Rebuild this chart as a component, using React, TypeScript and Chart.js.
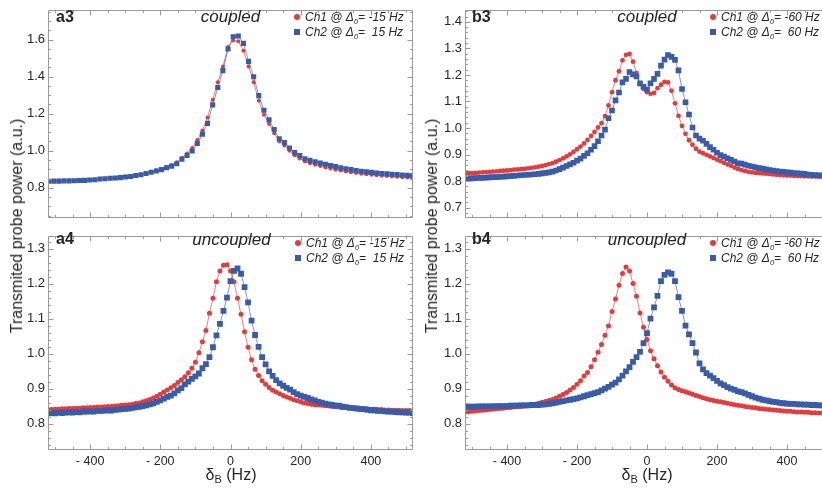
import React, { useEffect, useRef } from "react";
import { Chart, registerables } from "chart.js";

Chart.register(...registerables);

// ---------------- data ----------------
// panel a3 (coupled, ±15 Hz): sampling of δB (Hz)
const A3_X = [
  -518, -503.4, -488.8, -474.2, -459.6, -445, -430.4, -415.8, -401.2, -386.6,
  -372, -357.4, -342.8, -328.2, -313.6, -299, -284.4, -269.8, -255.2, -240.6,
  -226, -211.4, -196.8, -182.2, -167.6, -153, -138.4, -123.8, -109.2, -94.6,
  -80, -65.4, -50.8, -36.2, -21.6, -7, 7.6, 22.2, 36.8, 51.4,
  66, 80.6, 95.2, 109.8, 124.4, 139, 153.6, 168.2, 182.8, 197.4,
  212, 226.6, 241.2, 255.8, 270.4, 285, 299.6, 314.2, 328.8, 343.4,
  358, 372.6, 387.2, 401.8, 416.4, 431, 445.6, 460.2, 474.8, 489.4,
  504, 518.6,
];
const A3_CH1 = [
  0.836, 0.836, 0.837, 0.837, 0.838, 0.839, 0.840, 0.841, 0.842, 0.844,
  0.846, 0.849, 0.851, 0.853, 0.856, 0.859, 0.862, 0.867, 0.872, 0.879,
  0.886, 0.894, 0.902, 0.912, 0.922, 0.938, 0.962, 0.985, 1.015, 1.058,
  1.110, 1.180, 1.275, 1.370, 1.455, 1.560, 1.595, 1.592, 1.540, 1.455,
  1.370, 1.270, 1.195, 1.145, 1.095, 1.050, 1.028, 1.000, 0.975, 0.958,
  0.942, 0.932, 0.924, 0.917, 0.910, 0.904, 0.898, 0.893, 0.888, 0.884,
  0.880, 0.876, 0.873, 0.870, 0.868, 0.865, 0.863, 0.861, 0.859, 0.857,
  0.855, 0.853,
];
const A3_CH2 = [
  0.835, 0.836, 0.836, 0.837, 0.837, 0.838, 0.839, 0.840, 0.842, 0.843,
  0.847, 0.849, 0.851, 0.853, 0.855, 0.858, 0.861, 0.866, 0.870, 0.877,
  0.884, 0.891, 0.898, 0.908, 0.917, 0.930, 0.954, 0.974, 0.999, 1.040,
  1.090, 1.148, 1.248, 1.342, 1.433, 1.550, 1.616, 1.620, 1.580, 1.483,
  1.400, 1.298, 1.219, 1.167, 1.115, 1.065, 1.044, 1.015, 0.990, 0.974,
  0.957, 0.948, 0.940, 0.933, 0.927, 0.920, 0.914, 0.908, 0.903, 0.898,
  0.893, 0.889, 0.886, 0.883, 0.880, 0.877, 0.875, 0.873, 0.871, 0.869,
  0.867, 0.865,
];

// panels a4, b3, b4: sampling of δB (Hz)
const DENSE_X = [
  -520, -510, -500, -490, -480, -470, -460, -450, -440, -430,
  -420, -410, -400, -390, -380, -370, -360, -350, -340, -330,
  -320, -310, -300, -290, -280, -270, -260, -250, -240, -230,
  -220, -210, -200, -190, -180, -170, -160, -150, -140, -130,
  -120, -110, -100, -90, -80, -70, -60, -50, -40, -30,
  -20, -10, 0, 10, 20, 30, 40, 50, 60, 70,
  80, 90, 100, 110, 120, 130, 140, 150, 160, 170,
  180, 190, 200, 210, 220, 230, 240, 250, 260, 270,
  280, 290, 300, 310, 320, 330, 340, 350, 360, 370,
  380, 390, 400, 410, 420, 430, 440, 450, 460, 470,
  480, 490, 500, 510, 520,
];
const A4_CH1 = [
  0.840, 0.840, 0.841, 0.841, 0.842, 0.842, 0.843, 0.843, 0.844, 0.844,
  0.845, 0.845, 0.846, 0.846, 0.847, 0.847, 0.848, 0.849, 0.849, 0.850,
  0.851, 0.852, 0.853, 0.854, 0.855, 0.857, 0.859, 0.862, 0.865, 0.869,
  0.873, 0.878, 0.884, 0.890, 0.896, 0.902, 0.909, 0.917, 0.925, 0.934,
  0.945, 0.958, 0.975, 1.002, 1.034, 1.066, 1.115, 1.158, 1.205, 1.236,
  1.252, 1.254, 1.236, 1.205, 1.158, 1.112, 1.062, 1.018, 0.982, 0.955,
  0.937, 0.922, 0.912, 0.903, 0.895, 0.890, 0.885, 0.880, 0.876, 0.872,
  0.868, 0.865, 0.862, 0.859, 0.857, 0.855, 0.854, 0.853, 0.852, 0.851,
  0.850, 0.849, 0.848, 0.847, 0.846, 0.846, 0.845, 0.844, 0.843, 0.843,
  0.842, 0.842, 0.841, 0.841, 0.840, 0.840, 0.839, 0.839, 0.838, 0.838,
  0.838, 0.837, 0.837, 0.837, 0.836,
];
const A4_CH2 = [
  0.829, 0.830, 0.829, 0.831, 0.830, 0.831, 0.832, 0.831, 0.833, 0.832,
  0.834, 0.834, 0.835, 0.834, 0.836, 0.836, 0.837, 0.838, 0.837, 0.839,
  0.840, 0.841, 0.842, 0.843, 0.845, 0.846, 0.848, 0.850, 0.852, 0.855,
  0.858, 0.862, 0.866, 0.871, 0.876, 0.880, 0.886, 0.895, 0.901, 0.912,
  0.920, 0.928, 0.935, 0.943, 0.958, 0.970, 0.990, 1.018, 1.052, 1.085,
  1.122, 1.160, 1.207, 1.236, 1.243, 1.228, 1.190, 1.146, 1.094, 1.053,
  1.019, 0.990, 0.969, 0.949, 0.936, 0.924, 0.915, 0.908, 0.902, 0.897,
  0.890, 0.884, 0.880, 0.876, 0.873, 0.869, 0.866, 0.862, 0.860, 0.857,
  0.855, 0.853, 0.851, 0.851, 0.848, 0.847, 0.845, 0.844, 0.843, 0.841,
  0.841, 0.839, 0.838, 0.838, 0.836, 0.836, 0.835, 0.834, 0.834, 0.833,
  0.832, 0.832, 0.831, 0.831, 0.830,
];
const B3_CH1 = [
  0.829, 0.830, 0.830, 0.831, 0.832, 0.833, 0.834, 0.835, 0.836, 0.837,
  0.838, 0.839, 0.840, 0.841, 0.843, 0.844, 0.845, 0.846, 0.848, 0.850,
  0.852, 0.854, 0.857, 0.860, 0.864, 0.868, 0.873, 0.879, 0.886, 0.893,
  0.901, 0.910, 0.920, 0.930, 0.942, 0.955, 0.970, 0.985, 1.002, 1.018,
  1.045, 1.085, 1.135, 1.180, 1.214, 1.255, 1.276, 1.279, 1.250, 1.207,
  1.167, 1.148, 1.135, 1.129, 1.132, 1.150, 1.163, 1.174, 1.172, 1.140,
  1.093, 1.046, 1.008, 0.978, 0.954, 0.937, 0.922, 0.911, 0.905, 0.899,
  0.893, 0.887, 0.881, 0.875, 0.869, 0.863, 0.858, 0.851, 0.846, 0.841,
  0.838, 0.835, 0.833, 0.831, 0.830, 0.829, 0.828, 0.827, 0.825, 0.824,
  0.823, 0.822, 0.821, 0.821, 0.820, 0.819, 0.819, 0.818, 0.818, 0.817,
  0.817, 0.816, 0.816, 0.815, 0.815,
];
const B3_CH2 = [
  0.809, 0.810, 0.810, 0.811, 0.812, 0.812, 0.813, 0.814, 0.815, 0.815,
  0.816, 0.817, 0.818, 0.819, 0.820, 0.821, 0.822, 0.823, 0.824, 0.825,
  0.826, 0.827, 0.829, 0.831, 0.833, 0.836, 0.840, 0.845, 0.851, 0.857,
  0.863, 0.869, 0.877, 0.885, 0.895, 0.905, 0.918, 0.932, 0.950, 0.972,
  0.994, 1.037, 1.066, 1.104, 1.134, 1.172, 1.185, 1.211, 1.202, 1.194,
  1.168, 1.155, 1.145, 1.168, 1.185, 1.204, 1.235, 1.258, 1.275, 1.268,
  1.257, 1.217, 1.147, 1.097, 1.051, 1.002, 0.972, 0.960, 0.952, 0.940,
  0.928, 0.918, 0.907, 0.898, 0.892, 0.886, 0.880, 0.874, 0.867, 0.866,
  0.862, 0.858, 0.855, 0.852, 0.849, 0.847, 0.844, 0.842, 0.840, 0.838,
  0.836, 0.835, 0.833, 0.832, 0.830, 0.829, 0.828, 0.827, 0.825, 0.824,
  0.823, 0.822, 0.821, 0.820, 0.820,
];
const B4_CH1 = [
  0.833, 0.834, 0.835, 0.836, 0.837, 0.838, 0.839, 0.840, 0.841, 0.842,
  0.843, 0.844, 0.845, 0.846, 0.847, 0.848, 0.849, 0.850, 0.851, 0.853,
  0.855, 0.858, 0.861, 0.863, 0.866, 0.869, 0.873, 0.878, 0.883, 0.889,
  0.896, 0.903, 0.912, 0.922, 0.936, 0.946, 0.962, 0.982, 1.004, 1.026,
  1.052, 1.079, 1.120, 1.156, 1.195, 1.229, 1.247, 1.236, 1.200, 1.164,
  1.116, 1.075, 1.040, 1.008, 0.985, 0.965, 0.947, 0.932, 0.921, 0.910,
  0.902, 0.897, 0.894, 0.891, 0.887, 0.884, 0.880, 0.877, 0.874, 0.871,
  0.868, 0.866, 0.864, 0.862, 0.860, 0.858, 0.856, 0.854, 0.852, 0.851,
  0.849, 0.847, 0.846, 0.845, 0.843, 0.842, 0.841, 0.840, 0.839, 0.838,
  0.837, 0.836, 0.835, 0.835, 0.834, 0.833, 0.833, 0.832, 0.832, 0.831,
  0.831, 0.830, 0.830, 0.829, 0.829,
];
const B4_CH2 = [
  0.848, 0.848, 0.848, 0.848, 0.849, 0.849, 0.849, 0.849, 0.849, 0.850,
  0.850, 0.850, 0.850, 0.851, 0.851, 0.851, 0.852, 0.852, 0.852, 0.853,
  0.853, 0.853, 0.854, 0.855, 0.856, 0.858, 0.860, 0.862, 0.864, 0.866,
  0.868, 0.870, 0.872, 0.875, 0.878, 0.881, 0.884, 0.887, 0.890, 0.895,
  0.900, 0.905, 0.911, 0.917, 0.926, 0.937, 0.949, 0.961, 0.976, 0.990,
  1.005, 1.030, 1.058, 1.100, 1.132, 1.165, 1.207, 1.225, 1.232, 1.228,
  1.207, 1.161, 1.122, 1.080, 1.055, 1.030, 1.003, 0.972, 0.955, 0.944,
  0.937, 0.930, 0.922, 0.915, 0.910, 0.904, 0.900, 0.896, 0.892, 0.890,
  0.886, 0.882, 0.878, 0.874, 0.871, 0.868, 0.866, 0.864, 0.862, 0.861,
  0.859, 0.858, 0.857, 0.856, 0.856, 0.855, 0.855, 0.854, 0.854, 0.853,
  0.853, 0.852, 0.852, 0.852, 0.851,
];

// ticks
const X_TICKS = [-400, -200, 0, 200, 400];
const X_TICK_LABELS = ["- 400", "- 200", "0", "200", "400"];
const A3_Y_TICKS = [0.8, 1.0, 1.2, 1.4, 1.6];
const B3_Y_TICKS = [0.7, 0.8, 0.9, 1.0, 1.1, 1.2, 1.3, 1.4];
const UNCOUPLED_Y_TICKS = [0.8, 0.9, 1.0, 1.1, 1.2, 1.3];

// texts
const Y_TITLE = "Transmited probe power (a.u.)";
const PANEL_NAMES = ["a3", "a4", "b3", "b4"];
const PANEL_TITLES = ["coupled", "uncoupled", "coupled", "uncoupled"];
const LEGEND_A = [["Ch1 @ Δ", "= -15 Hz"], ["Ch2 @ Δ", "=  15 Hz"]];
const LEGEND_B = [["Ch1 @ Δ", "= -60 Hz"], ["Ch2 @ Δ", "=  60 Hz"]];

// ---------------- styles ----------------
const RED = "#e23c3c";
const RED_LINE = "rgba(226,70,70,0.85)";
const BLUE = "#3a5ca8";
const BLUE_LINE = "rgba(70,100,175,0.85)";
const TEXT = "#262626";
const FRAME = "#9a9a9a";
const FONT = "'Liberation Sans', Arial, Helvetica, sans-serif";

type Box = { left: number; top: number; width: number; height: number };
type Area = { left: number; top: number; right: number; bottom: number };
type Spec = {
  box: Box;
  area: Area;
  xMin: number;
  xMax: number;
  yMin: number;
  yMax: number;
  yTicks: number[];
  yMinorStep: number;
  showX: boolean;
  x: number[];
  ch1: number[];
  ch2: number[];
  dot: number;
  sq: number;
};

const SPECS: Spec[] = [
  {
    box: { left: 0, top: 0, width: 422, height: 228 },
    area: { left: 48, top: 3, right: 413, bottom: 227 },
    xMin: -520, xMax: 520, yMin: 0.641, yMax: 1.756,
    yTicks: A3_Y_TICKS, yMinorStep: 0.05, showX: false,
    x: A3_X, ch1: A3_CH1, ch2: A3_CH2, dot: 2.0, sq: 3.6,
  },
  {
    box: { left: 0, top: 226, width: 422, height: 263 },
    area: { left: 48, top: 226, right: 413, bottom: 450 },
    xMin: -520, xMax: 520, yMin: 0.7245, yMax: 1.3335,
    yTicks: UNCOUPLED_Y_TICKS, yMinorStep: 0.02, showX: true,
    x: DENSE_X, ch1: A4_CH1, ch2: A4_CH2, dot: 2.5, sq: 4.1,
  },
  {
    box: { left: 418, top: 0, width: 420, height: 228 },
    area: { left: 465, top: 3, right: 829, bottom: 227 },
    xMin: -520, xMax: 520, yMin: 0.664, yMax: 1.4417,
    yTicks: B3_Y_TICKS, yMinorStep: 0.02, showX: false,
    x: DENSE_X, ch1: B3_CH1, ch2: B3_CH2, dot: 2.4, sq: 4.0,
  },
  {
    box: { left: 418, top: 226, width: 420, height: 263 },
    area: { left: 465, top: 226, right: 829, bottom: 450 },
    xMin: -520, xMax: 520, yMin: 0.7245, yMax: 1.3335,
    yTicks: UNCOUPLED_Y_TICKS, yMinorStep: 0.02, showX: true,
    x: DENSE_X, ch1: B4_CH1, ch2: B4_CH2, dot: 2.5, sq: 4.1,
  },
];

function pts(xs: number[], ys: number[]) {
  return xs.map((x, i) => ({ x, y: ys[i] }));
}

function makeChart(canvas: HTMLCanvasElement, s: Spec) {
  const yWidth = s.area.left - s.box.left;
  const padTop = s.area.top - s.box.top;
  const padRight = s.box.left + s.box.width - s.area.right;
  const xHeight = s.box.top + s.box.height - s.area.bottom;

  const framePlugin = {
    id: "frameTicks",
    afterDatasetsDraw(chart: any) {
      const { ctx, chartArea: a, scales } = chart;
      const xs = scales.x;
      const ys = scales.y;
      const L = Math.floor(a.left) + 0.5;
      const T = Math.floor(a.top) + 0.5;
      const R = Math.ceil(a.right) - 0.5;
      const B = Math.ceil(a.bottom) - 0.5;
      ctx.save();
      ctx.strokeStyle = FRAME;
      ctx.lineWidth = 1;
      ctx.beginPath();
      ctx.moveTo(L, T); ctx.lineTo(R, T); ctx.lineTo(R, B); ctx.lineTo(L, B); ctx.closePath();
      ctx.stroke();
      ctx.beginPath();
      // x ticks (major every 200, minor every 50)
      for (let v = -500; v <= 500; v += 50) {
        const px = Math.round(xs.getPixelForValue(v)) + 0.5;
        const len = v % 200 === 0 ? 5 : 2.5;
        ctx.moveTo(px, B); ctx.lineTo(px, B - len);
        ctx.moveTo(px, T); ctx.lineTo(px, T + len);
      }
      // y ticks
      const st = s.yMinorStep;
      for (let k = Math.ceil(s.yMin / st); k * st <= s.yMax; k++) {
        const v = k * st;
        const isMajor = s.yTicks.some((t) => Math.abs(t - v) < 1e-6);
        const py = Math.round(ys.getPixelForValue(v)) + 0.5;
        const len = isMajor ? 5 : 2.5;
        ctx.moveTo(L, py); ctx.lineTo(L + len, py);
        ctx.moveTo(R, py); ctx.lineTo(R - len, py);
      }
      ctx.stroke();
      ctx.restore();
    },
  };

  return new Chart(canvas, {
    type: "scatter",
    data: {
      datasets: [
        {
          label: "Ch2",
          data: pts(s.x, s.ch2),
          showLine: true,
          borderColor: BLUE_LINE,
          borderWidth: 0.8,
          pointStyle: "rect",
          pointRadius: s.sq,
          pointBackgroundColor: BLUE,
          pointBorderWidth: 0,
          order: 1,
        },
        {
          label: "Ch1",
          data: pts(s.x, s.ch1),
          showLine: true,
          borderColor: RED_LINE,
          borderWidth: 0.8,
          pointStyle: "circle",
          pointRadius: s.dot,
          pointBackgroundColor: RED,
          pointBorderWidth: 0,
          order: 2,
        },
      ],
    },
    options: {
      animation: false,
      responsive: false,
      events: [],
      layout: { padding: { top: padTop, right: padRight, bottom: 0, left: 0 } },
      plugins: { legend: { display: false }, tooltip: { enabled: false } },
      scales: {
        x: {
          type: "linear",
          min: s.xMin,
          max: s.xMax,
          grid: { display: false, drawTicks: false },
          border: { display: false },
          ticks: {
            display: s.showX,
            autoSkip: false,
            maxRotation: 0,
            padding: 4,
            color: TEXT,
            font: { family: FONT, size: 12.5 },
            callback: (v: any) => {
              const i = X_TICKS.indexOf(Number(v));
              return i >= 0 ? X_TICK_LABELS[i] : "";
            },
          },
          afterBuildTicks: (sc: any) => {
            sc.ticks = X_TICKS.map((v) => ({ value: v }));
          },
          afterFit: (sc: any) => {
            sc.height = xHeight;
          },
        },
        y: {
          type: "linear",
          min: s.yMin,
          max: s.yMax,
          grid: { display: false, drawTicks: false },
          border: { display: false },
          ticks: {
            autoSkip: false,
            padding: 3,
            color: TEXT,
            font: { family: FONT, size: 13 },
            callback: (v: any) => Number(v).toFixed(1),
          },
          afterBuildTicks: (sc: any) => {
            sc.ticks = s.yTicks.map((v) => ({ value: v }));
          },
          afterFit: (sc: any) => {
            sc.width = yWidth;
          },
        },
      },
    } as any,
    plugins: [framePlugin],
  });
}

function Panel({ spec }: { spec: Spec }) {
  const ref = useRef<HTMLCanvasElement>(null);
  useEffect(() => {
    if (!ref.current) return;
    const chart = makeChart(ref.current, spec);
    return () => chart.destroy();
  }, [spec]);
  const b = spec.box;
  return (
    <canvas
      ref={ref}
      width={b.width}
      height={b.height}
      style={{ position: "absolute", left: b.left, top: b.top, width: b.width, height: b.height }}
    />
  );
}

function Txt({
  x, base, size, children, weight, italic, center,
}: {
  x: number; base: number; size: number; children: any; weight?: string; italic?: boolean; center?: boolean;
}) {
  return (
    <div
      style={{
        position: "absolute",
        left: x,
        top: base - 0.8465 * size,
        fontSize: size,
        lineHeight: 1,
        fontFamily: FONT,
        fontWeight: weight || "normal",
        fontStyle: italic ? "italic" : "normal",
        color: TEXT,
        whiteSpace: "pre",
        transform: center ? "translateX(-50%)" : undefined,
      }}
    >
      {children}
    </div>
  );
}

function Legend({ x, y, rows }: { x: number; y: number; rows: string[][] }) {
  return (
    <>
      {rows.map((r, i) => {
        const cy = y + i * 15;
        const isSq = i === 1;
        return (
          <React.Fragment key={i}>
            <div
              style={{
                position: "absolute",
                left: x - 3,
                top: cy - 3,
                width: 6,
                height: 6,
                background: isSq ? BLUE : RED,
                borderRadius: isSq ? 0 : "50%",
              }}
            />
            <div
              style={{
                position: "absolute",
                left: x + 8,
                top: cy - 8,
                height: 16,
                lineHeight: "16px",
                fontSize: 12,
                fontFamily: FONT,
                fontStyle: "italic",
                whiteSpace: "pre",
                color: TEXT,
              }}
            >
              {r[0]}
              <span style={{ fontSize: 7.5, position: "relative", top: 3 }}>0</span>
              {r[1]}
            </div>
          </React.Fragment>
        );
      })}
    </>
  );
}

function YTitle({ cx, cy }: { cx: number; cy: number }) {
  return (
    <div
      style={{
        position: "absolute",
        left: cx,
        top: cy,
        transform: "translate(-50%, -50%) rotate(-90deg)",
        whiteSpace: "nowrap",
        fontSize: 16,
        lineHeight: 1,
        fontFamily: FONT,
        color: TEXT,
      }}
    >
      {Y_TITLE}
    </div>
  );
}

function XTitle({ cx, cy }: { cx: number; cy: number }) {
  return (
    <div
      style={{
        position: "absolute",
        left: cx,
        top: cy - 9,
        transform: "translateX(-50%)",
        whiteSpace: "nowrap",
        fontSize: 16,
        lineHeight: "18px",
        fontFamily: FONT,
        color: TEXT,
      }}
    >
      δ<span style={{ fontSize: 11, position: "relative", top: 3 }}>B</span> (Hz)
    </div>
  );
}

export default function App() {
  return (
    <div
      style={{
        position: "absolute",
        left: 0,
        top: 0,
        width: 822,
        height: 489,
        overflow: "hidden",
        background: "#ffffff",
      }}
    >
      {SPECS.map((s, i) => (
        <Panel key={i} spec={s} />
      ))}
      <Txt x={56} base={22.7} size={16} weight="bold">{PANEL_NAMES[0]}</Txt>
      <Txt x={56} base={245} size={16} weight="bold">{PANEL_NAMES[1]}</Txt>
      <Txt x={472} base={22.7} size={16} weight="bold">{PANEL_NAMES[2]}</Txt>
      <Txt x={472} base={245} size={16} weight="bold">{PANEL_NAMES[3]}</Txt>
      <Txt x={230.5} base={22.7} size={17} italic center>{PANEL_TITLES[0]}</Txt>
      <Txt x={231.5} base={245} size={17} italic center>{PANEL_TITLES[1]}</Txt>
      <Txt x={647} base={22.7} size={17} italic center>{PANEL_TITLES[2]}</Txt>
      <Txt x={647} base={245} size={17} italic center>{PANEL_TITLES[3]}</Txt>
      <Legend x={297} y={16.7} rows={LEGEND_A} />
      <Legend x={298} y={242.5} rows={LEGEND_A} />
      <Legend x={713} y={16.7} rows={LEGEND_B} />
      <Legend x={713} y={242.5} rows={LEGEND_B} />
      <YTitle cx={17} cy={226} />
      <YTitle cx={432} cy={226} />
      <XTitle cx={231} cy={475} />
      <XTitle cx={647} cy={475} />
    </div>
  );
}
